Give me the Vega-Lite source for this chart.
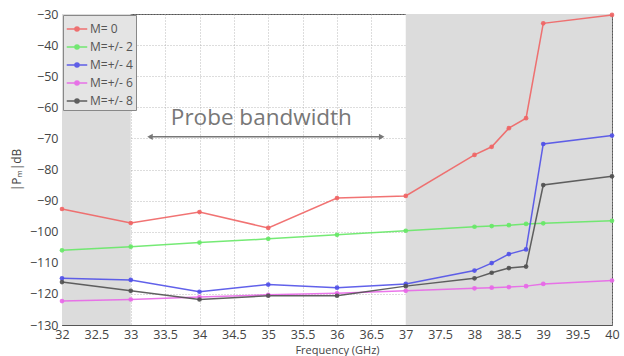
{
  "$schema": "https://vega.github.io/schema/vega-lite/v6.json",
  "width": 550,
  "height": 311,
  "autosize": "none",
  "padding": {"left": 62, "top": 14, "right": 12, "bottom": 31},
  "background": "white",
  "config": {
    "view": {"stroke": "#555", "strokeWidth": 1},
    "font": "Open Sans",
    "axis": {"labelFont": "Open Sans", "titleFont": "Open Sans", "labelColor": "#444", "titleColor": "#444", "labelFontSize": 12.5, "titleFontSize": 11, "titleFontWeight": "normal", "grid": true, "gridColor": "#aaa", "gridDash": [1, 2], "gridOpacity": 0.8, "domainColor": "#555", "tickColor": "#555", "labelOverlap": false}
  },
  "datasets": {
    "series": [
      {"x": 32, "y": -92.7, "m": "M= 0"}, {"x": 33, "y": -97.2, "m": "M= 0"}, {"x": 34, "y": -93.7, "m": "M= 0"}, {"x": 35, "y": -98.8, "m": "M= 0"}, {"x": 36, "y": -89.2, "m": "M= 0"}, {"x": 37, "y": -88.5, "m": "M= 0"}, {"x": 38, "y": -75.3, "m": "M= 0"}, {"x": 38.25, "y": -72.7, "m": "M= 0"}, {"x": 38.5, "y": -66.7, "m": "M= 0"}, {"x": 38.75, "y": -63.5, "m": "M= 0"}, {"x": 39, "y": -33, "m": "M= 0"}, {"x": 40, "y": -30.3, "m": "M= 0"},
      {"x": 32, "y": -106, "m": "M=+/- 2"}, {"x": 33, "y": -104.8, "m": "M=+/- 2"}, {"x": 34, "y": -103.5, "m": "M=+/- 2"}, {"x": 35, "y": -102.3, "m": "M=+/- 2"}, {"x": 36, "y": -101, "m": "M=+/- 2"}, {"x": 37, "y": -99.7, "m": "M=+/- 2"}, {"x": 38, "y": -98.4, "m": "M=+/- 2"}, {"x": 38.25, "y": -98.2, "m": "M=+/- 2"}, {"x": 38.5, "y": -97.9, "m": "M=+/- 2"}, {"x": 38.75, "y": -97.5, "m": "M=+/- 2"}, {"x": 39, "y": -97.3, "m": "M=+/- 2"}, {"x": 40, "y": -96.5, "m": "M=+/- 2"},
      {"x": 32, "y": -115, "m": "M=+/- 4"}, {"x": 33, "y": -115.5, "m": "M=+/- 4"}, {"x": 34, "y": -119.3, "m": "M=+/- 4"}, {"x": 35, "y": -117, "m": "M=+/- 4"}, {"x": 36, "y": -118, "m": "M=+/- 4"}, {"x": 37, "y": -116.8, "m": "M=+/- 4"}, {"x": 38, "y": -112.5, "m": "M=+/- 4"}, {"x": 38.25, "y": -110.1, "m": "M=+/- 4"}, {"x": 38.5, "y": -107.2, "m": "M=+/- 4"}, {"x": 38.75, "y": -105.7, "m": "M=+/- 4"}, {"x": 39, "y": -71.8, "m": "M=+/- 4"}, {"x": 40, "y": -69.1, "m": "M=+/- 4"},
      {"x": 32, "y": -122.3, "m": "M=+/- 6"}, {"x": 33, "y": -121.8, "m": "M=+/- 6"}, {"x": 34, "y": -121, "m": "M=+/- 6"}, {"x": 35, "y": -120.3, "m": "M=+/- 6"}, {"x": 36, "y": -119.8, "m": "M=+/- 6"}, {"x": 37, "y": -119, "m": "M=+/- 6"}, {"x": 38, "y": -118.2, "m": "M=+/- 6"}, {"x": 38.25, "y": -118, "m": "M=+/- 6"}, {"x": 38.5, "y": -117.8, "m": "M=+/- 6"}, {"x": 38.75, "y": -117.5, "m": "M=+/- 6"}, {"x": 39, "y": -116.8, "m": "M=+/- 6"}, {"x": 40, "y": -115.7, "m": "M=+/- 6"},
      {"x": 32, "y": -116.2, "m": "M=+/- 8"}, {"x": 33, "y": -119, "m": "M=+/- 8"}, {"x": 34, "y": -121.8, "m": "M=+/- 8"}, {"x": 35, "y": -120.6, "m": "M=+/- 8"}, {"x": 36, "y": -120.6, "m": "M=+/- 8"}, {"x": 37, "y": -117.5, "m": "M=+/- 8"}, {"x": 38, "y": -115, "m": "M=+/- 8"}, {"x": 38.25, "y": -113.2, "m": "M=+/- 8"}, {"x": 38.5, "y": -111.7, "m": "M=+/- 8"}, {"x": 38.75, "y": -111.2, "m": "M=+/- 8"}, {"x": 39, "y": -85, "m": "M=+/- 8"}, {"x": 40, "y": -82.2, "m": "M=+/- 8"}
    ],
    "bands": [{"x": 32, "x2": 33, "y": -130, "y2": -30}, {"x": 37, "x2": 40, "y": -130, "y2": -30}],
    "arrow": [{"x": 33.28, "x2": 36.65, "y": -69.5}],
    "heads": [{"x": 33.28, "y": -69.5, "s": "triangle-left"}, {"x": 36.65, "y": -69.5, "s": "triangle-right"}],
    "label": [{"x": 34.9, "y": -63.3, "t": "Probe bandwidth"}]
  },
  "encoding": {
    "x": {"field": "x", "type": "quantitative", "scale": {"domain": [32, 40], "nice": false, "zero": false}, "axis": {"title": "Frequency (GHz)", "values": [32, 32.5, 33, 33.5, 34, 34.5, 35, 35.5, 36, 36.5, 37, 37.5, 38, 38.5, 39, 39.5, 40], "format": "~g", "labelOverlap": false, "labelFlush": false, "labelBound": false, "tickSize": 0, "labelPadding": 3, "titlePadding": 4, "titleFontSize": 11}},
    "y": {"field": "y", "type": "quantitative", "scale": {"domain": [-130, -30], "nice": false}, "axis": {"title": "|Pₘ|dB", "titleFontSize": 12, "values": [-130, -120, -110, -100, -90, -80, -70, -60, -50, -40, -30], "labelOverlap": false, "labelFlush": false, "labelBound": false, "tickSize": 0, "labelPadding": 4, "titlePadding": 6}}
  },
  "layer": [
    {
      "data": {"name": "bands"},
      "mark": {"type": "rect", "color": "#dcdcdc"},
      "encoding": {"x2": {"field": "x2"}, "y2": {"field": "y2"}}
    },
    {
      "data": {"name": "arrow"},
      "mark": {"type": "rule", "color": "#777", "strokeWidth": 1.5},
      "encoding": {"x2": {"field": "x2"}}
    },
    {
      "data": {"name": "heads"},
      "mark": {"type": "point", "filled": true, "color": "#777", "size": 40, "opacity": 1},
      "encoding": {"shape": {"field": "s", "type": "nominal", "scale": null}}
    },
    {
      "data": {"name": "label"},
      "mark": {"type": "text", "color": "#777", "fontSize": 22.5, "font": "Open Sans"},
      "encoding": {"text": {"field": "t"}}
    },
    {
      "data": {"name": "series"},
      "mark": {"type": "line", "strokeWidth": 1.5, "opacity": 0.9},
      "encoding": {
        "color": {"field": "m", "type": "nominal", "scale": {"domain": ["M= 0", "M=+/- 2", "M=+/- 4", "M=+/- 6", "M=+/- 8"], "range": ["#f06464", "#66e866", "#5050e8", "#e866e8", "#505050"]},
          "legend": {"title": null, "orient": "top-left", "offset": 1, "padding": 3, "fillColor": "#e4e4e4", "strokeColor": "#888", "labelFontSize": 12, "labelColor": "#555", "labelFont": "Open Sans", "rowPadding": 1, "labelOffset": 2, "symbolType": "M-1,0H1M0.2,0A0.2,0.2,0,1,1,-0.2,0A0.2,0.2,0,1,1,0.2,0Z", "symbolSize": 420, "symbolStrokeWidth": 1.5,
            "encode": {"symbols": {"update": {"fill": {"scale": "color", "field": "value"}}}}}}
      }
    },
    {
      "data": {"name": "series"},
      "mark": {"type": "point", "filled": true, "size": 22, "opacity": 0.9},
      "encoding": {
        "color": {"field": "m", "type": "nominal", "legend": null}
      }
    }
  ]
}
